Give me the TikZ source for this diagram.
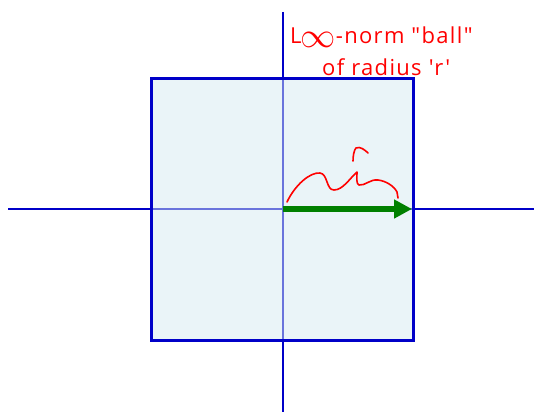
\documentclass[tikz,border=0pt]{standalone}
\usepackage{fontspec}
\setmainfont{Open Sans}
\newfontfamily\handfont[LetterSpace=6]{Open Sans}
\usetikzlibrary{arrows.meta}
\definecolor{axisblue}{HTML}{0000C8}
\definecolor{boxfill}{HTML}{D5E9F1}
\definecolor{arrowgreen}{HTML}{008000}
\definecolor{inkred}{HTML}{FF0000}
\tikzset{
  axis/.style={draw=axisblue, line width=2.6pt},
  ballbox/.style={draw=axisblue, line width=2pt, fill=boxfill, fill opacity=0.5, draw opacity=1},
  radiusarrow/.style={draw=arrowgreen, line width=6pt, -{Triangle[length=18pt,width=18pt]}},
  ink/.style={draw=inkred, line width=1.6pt, line cap=round, line join=round},
  note/.style={text=inkred, font=\handfont\fontsize{22}{26}\selectfont, align=center, inner sep=0pt}
}
\begin{document}
\begin{tikzpicture}[x=1pt,y=-1pt]
\useasboundingbox (0,0) rectangle (534,412);
% axes
\coordinate (xl) at (8,209);
\coordinate (xr) at (534,209);
\coordinate (yt) at (283,12);
\coordinate (yb) at (283,412);
\coordinate (o) at (283,209);
\coordinate (re) at (412,209);
\path[axis] (xl) -- (xr);
\path[axis] (yt) -- (yb);
% ball
\node[ballbox, minimum width=261pt, minimum height=261pt, inner sep=0pt] (ball) at (282.5,209.5) {};
\draw[draw=axisblue, line width=2pt] (ball.south west) rectangle (ball.north east);
% radius arrow
\path[radiusarrow] (o) -- (re);
% brace
\draw[ink] (287,202) .. controls (295,185) and (310,172) .. (320,173)
  .. controls (328,174) and (326,190) .. (334,190)
  .. controls (343,190) and (350,178) .. (357,172)
  .. controls (357,178) and (356,184) .. (359,185)
  .. controls (365,186) and (370,179) .. (378,180)
  .. controls (386,181) and (394,186) .. (397,192)
  -- (398,198);
\draw[ink] (353,161) .. controls (353,156) and (354,150) .. (356,148)
  .. controls (360,146) and (365,150) .. (368,153);
% label
\node[note, anchor=base west] (lbl1) at (290,44) {L\kern-1pt\raisebox{-3pt}{\scalebox{1.7}{$\infty$}}-norm "ball"};
\node[note, anchor=base west] (lbl2) at (322,75) {of radius 'r'};
\end{tikzpicture}
\end{document}
